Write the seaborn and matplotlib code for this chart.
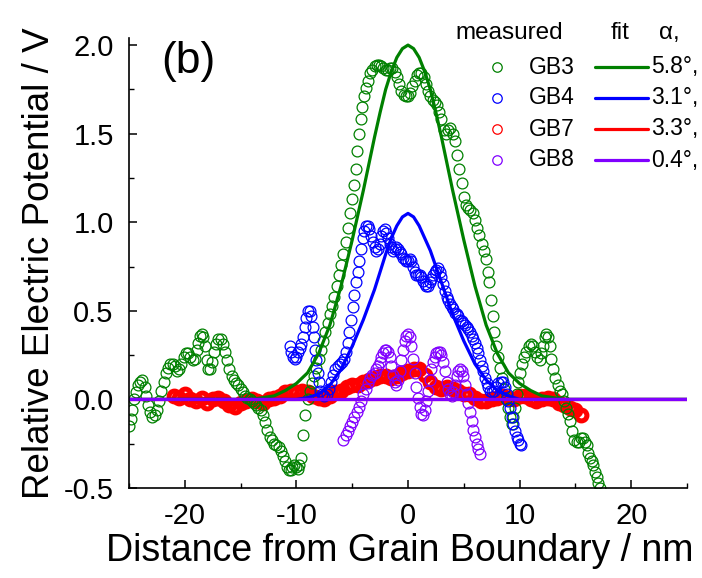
import matplotlib
matplotlib.use("Agg")
import matplotlib.pyplot as plt
from matplotlib.lines import Line2D
from matplotlib.ticker import MultipleLocator
import pandas as pd
import seaborn as sns

# ---------------- measured potential profiles (nm, V) ----------------
gb3_x = [-25.0, -24.85, -24.7, -24.55, -24.4, -24.2, -24.0, -23.8, -23.6, -23.45,
         -23.3, -23.1, -22.9, -22.7, -22.5, -22.3, -22.1, -21.9, -21.7, -21.5,
         -21.3, -21.1, -20.9, -20.7, -20.5, -20.3, -20.1, -19.9, -19.7, -19.5,
         -19.3, -19.1, -18.95, -18.8, -18.65, -18.5, -18.35, -18.2, -18.05, -17.9,
         -17.75, -17.6, -17.4, -17.2, -17.0, -16.8, -16.6, -16.4, -16.2, -16.0,
         -15.8, -15.6, -15.4, -15.2, -15.0, -14.8, -14.6, -14.4, -14.2, -14.0,
         -13.8, -13.6, -13.4, -13.2, -13.0, -12.8, -12.6, -12.4, -12.2, -12.0,
         -11.8, -11.6, -11.4, -11.2, -11.0, -10.8, -10.65, -10.5, -10.35, -10.2,
         -10.05, -9.9, -9.75, -9.6, -9.4, -9.2, -9.0, -8.8, -8.6, -8.4,
         -8.2, -8.0, -7.8, -7.6, -7.4, -7.2, -7.0, -6.8, -6.6, -6.4,
         -6.2, -6.0, -5.8, -5.6, -5.4, -5.2, -5.0, -4.85, -4.7, -4.55,
         -4.4, -4.25, -4.1, -3.95, -3.8, -3.6, -3.4, -3.2, -3.0, -2.8,
         -2.6, -2.4, -2.2, -2.0, -1.8, -1.6, -1.4, -1.2, -1.0, -0.8,
         -0.6, -0.4, -0.2, 0.0, 0.2, 0.4, 0.6, 0.8, 1.0, 1.2,
         1.4, 1.6, 1.8, 2.0, 2.2, 2.4, 2.6, 2.8, 3.0, 3.2,
         3.4, 3.6, 3.8, 4.0, 4.2, 4.4, 4.6, 4.8, 5.0, 5.2,
         5.4, 5.6, 5.8, 6.0, 6.2, 6.4, 6.6, 6.8, 7.0, 7.15,
         7.3, 7.45, 7.6, 7.75, 7.9, 8.05, 8.2, 8.4, 8.6, 8.8,
         9.0, 9.15, 9.3, 9.45, 9.6, 9.75, 9.9, 10.05, 10.2, 10.4,
         10.6, 10.8, 11.0, 11.2, 11.4, 11.6, 11.8, 11.95, 12.1, 12.25,
         12.4, 12.55, 12.7, 12.85, 13.0, 13.2, 13.4, 13.6, 13.8, 14.0,
         14.2, 14.35, 14.5, 14.7, 14.9, 15.1, 15.3, 15.5, 15.7, 15.85,
         16.0, 16.15, 16.3, 16.45, 16.6, 16.75, 16.9, 17.05, 17.2]
gb3_y = [-0.15, -0.11, -0.06, 0.00, 0.04, 0.08, 0.10, 0.11, 0.07, 0.02,
         -0.03, -0.07, -0.10, -0.09, -0.06, -0.01, 0.05, 0.10, 0.15, 0.18,
         0.20, 0.20, 0.19, 0.16, 0.17, 0.20, 0.24, 0.26, 0.26, 0.24,
         0.22, 0.23, 0.28, 0.32, 0.36, 0.37, 0.35, 0.30, 0.22, 0.17,
         0.17, 0.21, 0.27, 0.31, 0.34, 0.34, 0.31, 0.27, 0.22, 0.17,
         0.13, 0.11, 0.09, 0.08, 0.06, 0.04, 0.02, 0.01, 0.00, -0.01,
         -0.02, -0.03, -0.05, -0.06, -0.09, -0.13, -0.17, -0.21, -0.23, -0.25,
         -0.26, -0.27, -0.29, -0.32, -0.35, -0.38, -0.40, -0.40, -0.38, -0.37,
         -0.38, -0.39, -0.37, -0.33, -0.20, -0.09, 0.00, 0.05, 0.09, 0.13,
         0.18, 0.23, 0.28, 0.33, 0.38, 0.43, 0.48, 0.53, 0.58, 0.64,
         0.70, 0.76, 0.82, 0.89, 0.97, 1.05, 1.13, 1.21, 1.30, 1.40,
         1.50, 1.58, 1.65, 1.71, 1.76, 1.80, 1.84, 1.86, 1.88, 1.89,
         1.89, 1.88, 1.87, 1.86, 1.86, 1.87, 1.87, 1.85, 1.82, 1.78,
         1.74, 1.72, 1.71, 1.71, 1.73, 1.77, 1.80, 1.83, 1.84, 1.84,
         1.82, 1.78, 1.74, 1.71, 1.69, 1.68, 1.66, 1.62, 1.58, 1.52,
         1.50, 1.52, 1.53, 1.50, 1.46, 1.38, 1.30, 1.22, 1.14, 1.10,
         1.08, 1.07, 1.05, 1.01, 0.97, 0.93, 0.88, 0.84, 0.79, 0.72,
         0.66, 0.56, 0.47, 0.38, 0.30, 0.24, 0.18, 0.12, 0.06, 0.00,
         -0.05, -0.10, -0.14, -0.10, -0.05, 0.03, 0.10, 0.15, 0.20, 0.24,
         0.27, 0.30, 0.31, 0.30, 0.27, 0.24, 0.22, 0.26, 0.30, 0.35,
         0.37, 0.35, 0.30, 0.23, 0.17, 0.12, 0.08, 0.05, 0.03, -0.01,
         -0.05, -0.08, -0.12, -0.18, -0.23, -0.24, -0.24, -0.22, -0.22, -0.24,
         -0.26, -0.30, -0.33, -0.35, -0.37, -0.41, -0.44, -0.47, -0.50]

gb4_x = [-10.6, -10.45, -10.3, -10.15, -10.0, -9.85, -9.7, -9.55, -9.4, -9.25,
         -9.1, -8.95, -8.8, -8.65, -8.5, -8.4, -8.3, -8.2, -8.1, -8.0,
         -7.85, -7.7, -7.5, -7.3, -7.1, -6.9, -6.7, -6.5, -6.3, -6.1,
         -5.9, -5.7, -5.55, -5.4, -5.25, -5.1, -4.95, -4.8, -4.65, -4.5,
         -4.35, -4.2, -4.05, -3.9, -3.75, -3.6, -3.45, -3.3, -3.15, -3.0,
         -2.85, -2.7, -2.55, -2.4, -2.25, -2.1, -1.95, -1.8, -1.65, -1.5,
         -1.35, -1.2, -1.05, -0.9, -0.75, -0.6, -0.45, -0.3, -0.15, 0.0,
         0.15, 0.3, 0.45, 0.6, 0.75, 0.9, 1.05, 1.2, 1.35, 1.5,
         1.65, 1.8, 1.95, 2.1, 2.25, 2.4, 2.55, 2.7, 2.85, 3.0,
         3.15, 3.3, 3.45, 3.6, 3.75, 3.9, 4.05, 4.2, 4.35, 4.5,
         4.65, 4.8, 4.95, 5.1, 5.25, 5.4, 5.55, 5.7, 5.85, 6.0,
         6.15, 6.3, 6.45, 6.6, 6.75, 6.9, 7.05, 7.2, 7.35, 7.5,
         7.7, 7.9, 8.1, 8.3, 8.5, 8.7, 8.85, 9.0, 9.15, 9.3,
         9.45, 9.6, 9.75, 9.9, 10.05, 10.15]
gb4_y = [0.30, 0.27, 0.24, 0.23, 0.24, 0.27, 0.29, 0.31, 0.35, 0.41,
         0.46, 0.50, 0.50, 0.47, 0.41, 0.35, 0.28, 0.22, 0.15, 0.10,
         0.05, 0.03, 0.02, 0.03, 0.06, 0.10, 0.14, 0.17, 0.19, 0.20,
         0.21, 0.23, 0.27, 0.32, 0.38, 0.45, 0.52, 0.59, 0.66, 0.72,
         0.78, 0.85, 0.91, 0.95, 0.98, 0.98, 0.96, 0.92, 0.89, 0.86,
         0.84, 0.85, 0.88, 0.92, 0.95, 0.96, 0.94, 0.91, 0.88, 0.86,
         0.84, 0.85, 0.86, 0.85, 0.83, 0.82, 0.80, 0.79, 0.78, 0.78,
         0.79, 0.78, 0.75, 0.72, 0.70, 0.70, 0.70, 0.69, 0.67, 0.65,
         0.64, 0.64, 0.66, 0.68, 0.70, 0.72, 0.73, 0.74, 0.72, 0.69,
         0.65, 0.61, 0.58, 0.56, 0.54, 0.52, 0.51, 0.49, 0.48, 0.47,
         0.45, 0.44, 0.43, 0.42, 0.41, 0.40, 0.38, 0.36, 0.34, 0.32,
         0.29, 0.26, 0.22, 0.19, 0.16, 0.12, 0.09, 0.07, 0.05, 0.04,
         0.05, 0.07, 0.09, 0.10, 0.10, 0.07, 0.03, -0.01, -0.05, -0.10,
         -0.14, -0.18, -0.21, -0.23, -0.25, -0.26]

gb7_x = [-21.0, -20.5, -20.0, -19.5, -19.0, -18.5, -18.0, -17.5, -17.0, -16.5,
         -16.0, -15.5, -15.0, -14.5, -14.0, -13.5, -13.0, -12.5, -12.0, -11.5,
         -11.0, -10.5, -10.0, -9.5, -9.0, -8.5, -8.0, -7.5, -7.0, -6.5,
         -6.0, -5.5, -5.0, -4.5, -4.0, -3.5, -3.0, -2.5, -2.0, -1.5,
         -1.0, -0.5, 0.0, 0.5, 1.0, 1.5, 2.0, 2.5, 3.0, 3.5,
         4.0, 4.5, 5.0, 5.5, 6.0, 6.5, 7.0, 7.5, 8.0, 8.5,
         9.0, 9.5, 10.0, 10.5, 11.0, 11.5, 12.0, 12.5, 13.0, 13.5,
         14.0, 14.5, 15.0, 15.5]
gb7_y = [0.02, 0.01, 0.03, 0.00, -0.01, 0.01, -0.02, 0.00, 0.01, -0.01,
         -0.03, -0.04, -0.02, -0.01, 0.00, -0.01, -0.02, 0.00, 0.01, 0.02,
         0.04, 0.05, 0.04, 0.05, 0.04, 0.02, 0.01, 0.00, 0.02, 0.04,
         0.05, 0.07, 0.08, 0.08, 0.10, 0.11, 0.12, 0.13, 0.13, 0.12,
         0.13, 0.15, 0.16, 0.17, 0.17, 0.14, 0.10, 0.07, 0.06, 0.07,
         0.06, 0.05, 0.03, 0.03, 0.01, -0.01, -0.01, 0.00, 0.01, 0.02,
         0.01, 0.00, 0.02, 0.02, 0.00, -0.01, 0.00, 0.01, 0.00, -0.02,
         -0.03, -0.05, -0.06, -0.09]

gb8_x = [-5.8, -5.6, -5.4, -5.2, -5.0, -4.8, -4.6, -4.4, -4.2, -4.0,
         -3.8, -3.6, -3.4, -3.2, -3.0, -2.85, -2.7, -2.55, -2.4, -2.25,
         -2.1, -1.95, -1.8, -1.65, -1.5, -1.35, -1.2, -1.05, -0.9, -0.75,
         -0.6, -0.45, -0.3, -0.15, 0.0, 0.15, 0.3, 0.45, 0.6, 0.75,
         0.9, 1.05, 1.2, 1.35, 1.5, 1.65, 1.8, 1.95, 2.1, 2.25,
         2.4, 2.55, 2.7, 2.85, 3.0, 3.15, 3.3, 3.45, 3.6, 3.75,
         3.9, 4.05, 4.2, 4.35, 4.5, 4.65, 4.8, 4.95, 5.1, 5.25,
         5.4, 5.55, 5.7, 5.85, 6.0, 6.15, 6.3, 6.45]
gb8_y = [-0.23, -0.20, -0.18, -0.15, -0.13, -0.10, -0.07, -0.04, -0.01, 0.03,
         0.06, 0.09, 0.12, 0.14, 0.15, 0.17, 0.19, 0.21, 0.24, 0.26,
         0.28, 0.28, 0.27, 0.24, 0.19, 0.14, 0.10, 0.08, 0.11, 0.16,
         0.22, 0.28, 0.33, 0.36, 0.37, 0.35, 0.30, 0.23, 0.15, 0.07,
         0.01, -0.04, -0.08, -0.09, -0.06, -0.01, 0.05, 0.11, 0.17, 0.21,
         0.24, 0.26, 0.27, 0.27, 0.25, 0.21, 0.16, 0.10, 0.06, 0.03,
         0.02, 0.04, 0.08, 0.13, 0.16, 0.17, 0.16, 0.13, 0.08, 0.03,
         -0.02, -0.07, -0.12, -0.17, -0.21, -0.25, -0.28, -0.31]

# ---------------- fitted profiles ----------------
fit3_x = [-25, -14, -13, -12, -11, -10, -9, -8, -7, -6, -5, -4, -3, -2.5, -2,
          -1.5, -1, -0.5, 0, 0.5, 1, 1.5, 2, 2.5, 3, 4, 5, 6, 7, 8, 9, 10,
          11, 12, 13, 14, 25]
fit3_y = [0.0, 0.0, 0.01, 0.02, 0.05, 0.09, 0.15, 0.26, 0.42, 0.64, 0.90, 1.18,
          1.48, 1.62, 1.75, 1.85, 1.93, 1.98, 2.0, 1.98, 1.93, 1.85, 1.75, 1.62,
          1.48, 1.18, 0.90, 0.64, 0.42, 0.26, 0.15, 0.09, 0.05, 0.02, 0.01,
          0.0, 0.0]

fit4_x = [-25, -10, -9, -8, -7, -6, -5, -4, -3, -2.5, -2, -1.5, -1, -0.5, 0,
          0.5, 1, 1.5, 2, 2.5, 3, 4, 5, 6, 7, 8, 9, 10, 25]
fit4_y = [0.0, 0.0, 0.01, 0.03, 0.08, 0.17, 0.30, 0.45, 0.62, 0.72, 0.82, 0.91,
          0.98, 1.03, 1.05, 1.03, 0.98, 0.91, 0.84, 0.75, 0.66, 0.48, 0.33,
          0.20, 0.11, 0.05, 0.02, 0.0, 0.0]

fit7_x = [-25, 25]
fit7_y = [0.0, 0.0]

fit8_x = [-25, 25]
fit8_y = [0.0, 0.0]

names = ["GB3", "GB4", "GB7", "GB8"]
angles = ["5.8°,", "3.1°,", "3.3°,", "0.4°,"]
colors = {"GB3": "#008000", "GB4": "#0000ff", "GB7": "#ff0000", "GB8": "#8000ff"}

measured = {
    "GB3": pd.DataFrame({"x": gb3_x, "y": gb3_y}),
    "GB4": pd.DataFrame({"x": gb4_x, "y": gb4_y}),
    "GB7": pd.DataFrame({"x": gb7_x, "y": gb7_y}),
    "GB8": pd.DataFrame({"x": gb8_x, "y": gb8_y}),
}
fits = {
    "GB3": pd.DataFrame({"x": fit3_x, "y": fit3_y}),
    "GB4": pd.DataFrame({"x": fit4_x, "y": fit4_y}),
    "GB7": pd.DataFrame({"x": fit7_x, "y": fit7_y}),
    "GB8": pd.DataFrame({"x": fit8_x, "y": fit8_y}),
}

sns.set_style("ticks")
plt.rcParams["font.family"] = ["Liberation Sans", "DejaVu Sans"]
plt.rcParams["axes.unicode_minus"] = False
for key in ["text.color", "axes.labelcolor", "xtick.color", "ytick.color",
            "axes.edgecolor"]:
    plt.rcParams[key] = "black"

W, H = 702, 578
fig = plt.figure(figsize=(W / 100, H / 100), dpi=100)
ax = fig.add_axes([129 / W, 1 - 488 / H, (687 - 129) / W, (488 - 38) / H])

# measured points: open circles (GB7 drawn first, it sits underneath)
for name in ["GB7", "GB3", "GB4", "GB8"]:
    d = measured[name]
    sns.lineplot(data=d, x="x", y="y", ax=ax, sort=False, estimator=None,
                 linestyle="", marker="o", markersize=7.8,
                 markerfacecolor="none", markeredgecolor=colors[name],
                 markeredgewidth=3.6 if name == "GB7" else 0.9,
                 color=colors[name], legend=False)

# fitted curves
for name in ["GB3", "GB4", "GB7", "GB8"]:
    d = fits[name]
    sns.lineplot(data=d, x="x", y="y", ax=ax, sort=False, estimator=None,
                 color=colors[name], linewidth=2.3, legend=False)

ax.set_xlim(-25, 25)
ax.set_ylim(-0.5, 2.04)
ax.xaxis.set_minor_locator(MultipleLocator(5))
ax.yaxis.set_minor_locator(MultipleLocator(0.25))
ax.set_yticks([-0.5, 0.0, 0.5, 1.0, 1.5, 2.0])
ax.set_yticklabels(["-0.5", "0.0", "0.5", "1.0", "1.5", "2.0"])
ax.set_xticks([-20, -10, 0, 10, 20])
ax.set_xticklabels(["-20", "-10", "0", "10", "20"])

for s in ["top", "right"]:
    ax.spines[s].set_visible(False)
for s in ["left", "bottom"]:
    ax.spines[s].set_linewidth(1.2)
    ax.spines[s].set_color("black")

ax.tick_params(which="major", direction="in", length=6, width=1.1,
               labelsize=21, colors="black")
ax.tick_params(which="minor", direction="in", length=3.5, width=1.0,
               colors="black")
ax.tick_params(axis="y", which="major", pad=11)
ax.tick_params(axis="x", which="major", pad=10)

ax.set_xlabel("Distance from Grain Boundary / nm", fontsize=27)
ax.xaxis.set_label_coords((400 - 129) / (687 - 129), -0.1)
ax.set_ylabel("Relative Electric Potential / V", fontsize=26.5, labelpad=5)

fig.text(161 / W, 1 - 62 / H, "(b)", fontsize=32, ha="left", va="center")

# legend table: measured marker, name, fit line, misorientation angle
def fx(px):
    return px / W


def fy(py):
    return 1 - py / H


fig.text(fx(455), fy(33), "measured", fontsize=17.5, ha="left", va="center")
fig.text(fx(611), fy(33), "fit", fontsize=17.5, ha="left", va="center")
fig.text(fx(659), fy(33), "α,", fontsize=17.5, ha="left", va="center")

rows = [67, 98, 129, 160]
for name, ang, ry in zip(names, angles, rows):
    c = colors[name]
    fig.add_artist(Line2D([fx(497)], [fy(ry)], marker="o", markersize=6.8,
                          markerfacecolor="none", markeredgecolor=c,
                          markeredgewidth=0.9, linestyle=""))
    fig.text(fx(529), fy(ry), name, fontsize=16.5, ha="left", va="center")
    fig.add_artist(Line2D([fx(595), fx(648)], [fy(ry), fy(ry)], color=c,
                          linewidth=2.3))
    fig.text(fx(651), fy(ry), ang, fontsize=16.5, ha="left", va="center")

fig.savefig("out.png", dpi=100)
